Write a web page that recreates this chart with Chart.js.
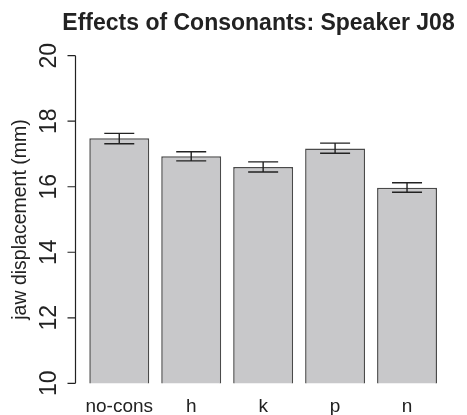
<!DOCTYPE html>
<html>
<head>
<meta charset="utf-8">
<script src="https://cdn.jsdelivr.net/npm/chart.js@4/dist/chart.umd.min.js"></script>
<style>
  html, body { margin: 0; padding: 0; background: #fff; }
  #wrap { width: 467px; height: 415px; }
</style>
</head>
<body>
<div id="wrap"><canvas id="chart" width="467" height="415"></canvas></div>
<script>
// data
const consonants = ['no-cons', 'h', 'k', 'p', 'n'];
const jawMeans = [17.48, 16.93, 16.60, 17.17, 15.97];
const errLow = [17.31, 16.79, 16.45, 17.02, 15.83];
const errHigh = [17.63, 17.07, 16.76, 17.33, 16.12];
const yTicks = [10, 12, 14, 16, 18, 20];

const titleText = 'Effects of Consonants: Speaker J08';
const yTitle = 'jaw displacement (mm)';
const ink = '#222';
const fontFamily = '"Liberation Sans", Arial, sans-serif';

// R style y axis (rotated labels, axis offset from the bars) + error bars + title
const extras = {
    id: 'extras',
    afterDatasetsDraw(chart) {
        const ctx = chart.ctx;
        const y = chart.scales.y;
        const meta = chart.getDatasetMeta(0);

        // error bars
        ctx.save();
        ctx.strokeStyle = ink;
        ctx.lineWidth = 1.4;
        meta.data.forEach((bar, i) => {
            const top = y.getPixelForValue(errHigh[i]);
            const bot = y.getPixelForValue(errLow[i]);
            const cap = 15;
            ctx.beginPath();
            ctx.moveTo(bar.x, top); ctx.lineTo(bar.x, bot);
            ctx.moveTo(bar.x - cap, top); ctx.lineTo(bar.x + cap, top);
            ctx.moveTo(bar.x - cap, bot); ctx.lineTo(bar.x + cap, bot);
            ctx.stroke();
        });
        ctx.restore();

        // y axis
        const axisX = 75.5;
        ctx.save();
        ctx.strokeStyle = ink;
        ctx.lineWidth = 1.2;
        ctx.beginPath();
        ctx.moveTo(axisX, y.getPixelForValue(yTicks[0]));
        ctx.lineTo(axisX, y.getPixelForValue(yTicks[yTicks.length - 1]));
        yTicks.forEach(t => {
            const py = y.getPixelForValue(t);
            ctx.moveTo(axisX, py); ctx.lineTo(axisX - 8, py);
        });
        ctx.stroke();

        ctx.fillStyle = ink;
        ctx.font = '23px ' + fontFamily;
        ctx.textAlign = 'center';
        ctx.textBaseline = 'alphabetic';
        yTicks.forEach(t => {
            const py = y.getPixelForValue(t);
            ctx.save();
            ctx.translate(55.5, py);
            ctx.rotate(-Math.PI / 2);
            ctx.fillText(String(t), 0, 0);
            ctx.restore();
        });

        // axis title
        ctx.font = '19.5px ' + fontFamily;
        ctx.save();
        ctx.translate(25.5, 219.5);
        ctx.rotate(-Math.PI / 2);
        ctx.fillText(yTitle, 0, 0);
        ctx.restore();

        // main title
        ctx.font = 'bold 23px ' + fontFamily;
        ctx.fillText(titleText, 258.5, 29.5);
        ctx.restore();
    }
};

new Chart(document.getElementById('chart'), {
    type: 'bar',
    data: {
        labels: consonants,
        datasets: [{
            data: jawMeans,
            backgroundColor: '#c8c8ca',
            borderColor: '#4a4a4a',
            borderWidth: 1.5,
            borderSkipped: false,
            barPercentage: 60 / 72,
            categoryPercentage: 1
        }]
    },
    options: {
        responsive: false,
        animation: false,
        layout: { padding: { left: 83.3, right: 24, top: 55.7, bottom: 0 } },
        scales: {
            x: {
                grid: { display: false },
                border: { display: false },
                ticks: {
                    color: ink,
                    padding: 4,
                    maxRotation: 0,
                    font: { family: fontFamily, size: 19 }
                },
                afterFit(scale) { scale.height = 31.7; }
            },
            y: {
                display: false,
                min: 10,
                max: 20
            }
        },
        plugins: {
            legend: { display: false },
            tooltip: { enabled: false },
            title: { display: false }
        }
    },
    plugins: [extras]
});
</script>
</body>
</html>
